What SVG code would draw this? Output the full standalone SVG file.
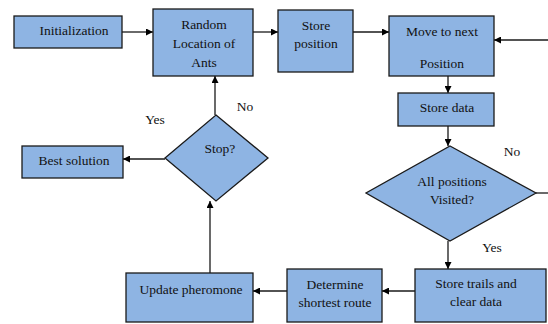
<svg xmlns="http://www.w3.org/2000/svg" width="548" height="324" viewBox="0 0 548 324">
<style>
.n{fill:#8eb4e3;stroke:#1a1a1a;stroke-width:1.3}
text{font-family:'Liberation Serif',serif !important;font-size:13.5px;fill:#111;text-anchor:middle}
.c{fill:none;stroke:#1a1a1a;stroke-width:1.3}
</style>
<defs>
<marker id="a" viewBox="0 0 10 10" refX="10" refY="5" markerWidth="7" markerHeight="7" orient="auto" markerUnits="userSpaceOnUse">
<path d="M0,0L10,5L0,10z" fill="#000"/>
</marker>
</defs>
<rect width="548" height="324" fill="#fff"/>
<g id="connectors">
<line class="c" x1="122" y1="32" x2="153" y2="32" marker-end="url(#a)"/>
<line class="c" x1="253" y1="32" x2="278" y2="32" marker-end="url(#a)"/>
<line class="c" x1="353" y1="32" x2="389" y2="32" marker-end="url(#a)"/>
<line class="c" x1="548" y1="40" x2="494" y2="40" marker-end="url(#a)"/>
<line class="c" x1="448" y1="76" x2="448" y2="93" marker-end="url(#a)"/>
<line class="c" x1="448" y1="126" x2="448" y2="146" marker-end="url(#a)"/>
<line class="c" x1="536" y1="193" x2="548" y2="193"/>
<line class="c" x1="448" y1="241" x2="448" y2="269" marker-end="url(#a)"/>
<line class="c" x1="415" y1="291" x2="382" y2="291" marker-end="url(#a)"/>
<line class="c" x1="287" y1="291" x2="253" y2="291" marker-end="url(#a)"/>
<line class="c" x1="210" y1="273" x2="210" y2="201" marker-end="url(#a)"/>
<line class="c" x1="215" y1="115" x2="215" y2="76" marker-end="url(#a)"/>
<line class="c" x1="165" y1="159" x2="123" y2="159" marker-end="url(#a)"/>
<text font-family="Liberation Serif" x="155" y="124">Yes</text>
<text font-family="Liberation Serif" x="245" y="111">No</text>
<text font-family="Liberation Serif" x="512" y="156">No</text>
<text font-family="Liberation Serif" x="492" y="252">Yes</text>
</g>
<g id="init"><rect class="n" x="14" y="16" width="108" height="32"/><text font-family="Liberation Serif" x="74" y="35">Initialization</text></g>
<g id="random"><rect class="n" x="153" y="9" width="100" height="67"/><text font-family="Liberation Serif" x="204" y="29">Random</text><text font-family="Liberation Serif" x="204" y="48">Location of</text><text font-family="Liberation Serif" x="204" y="67">Ants</text></g>
<g id="storepos"><rect class="n" x="278" y="10" width="75" height="62"/><text font-family="Liberation Serif" x="316" y="30">Store</text><text font-family="Liberation Serif" x="316" y="48">position</text></g>
<g id="move"><rect class="n" x="389" y="16" width="105" height="60"/><text font-family="Liberation Serif" x="442" y="36">Move to next</text><text font-family="Liberation Serif" x="442" y="68">Position</text></g>
<g id="storedata"><rect class="n" x="398" y="93" width="96" height="33"/><text font-family="Liberation Serif" x="447" y="112">Store data</text></g>
<g id="allvisited"><polygon class="n" points="450,146 536,193 450,241 366,193"/><text font-family="Liberation Serif" x="452" y="186">All positions</text><text font-family="Liberation Serif" x="452" y="204">Visited?</text></g>
<g id="storetrails"><rect class="n" x="415" y="269" width="131" height="53"/><text font-family="Liberation Serif" x="476" y="288">Store trails and</text><text font-family="Liberation Serif" x="476" y="306">clear data</text></g>
<g id="determine"><rect class="n" x="287" y="269" width="95" height="53"/><text font-family="Liberation Serif" x="335" y="289">Determine</text><text font-family="Liberation Serif" x="335" y="307">shortest route</text></g>
<g id="update"><rect class="n" x="126" y="273" width="127" height="49"/><text font-family="Liberation Serif" x="191" y="294">Update pheromone</text></g>
<g id="stop"><polygon class="n" points="216,115 268,158 216,201 165,158"/><text font-family="Liberation Serif" x="220" y="153">Stop?</text></g>
<g id="best"><rect class="n" x="22" y="146" width="101" height="32"/><text font-family="Liberation Serif" x="74" y="165">Best solution</text></g>
</svg>
